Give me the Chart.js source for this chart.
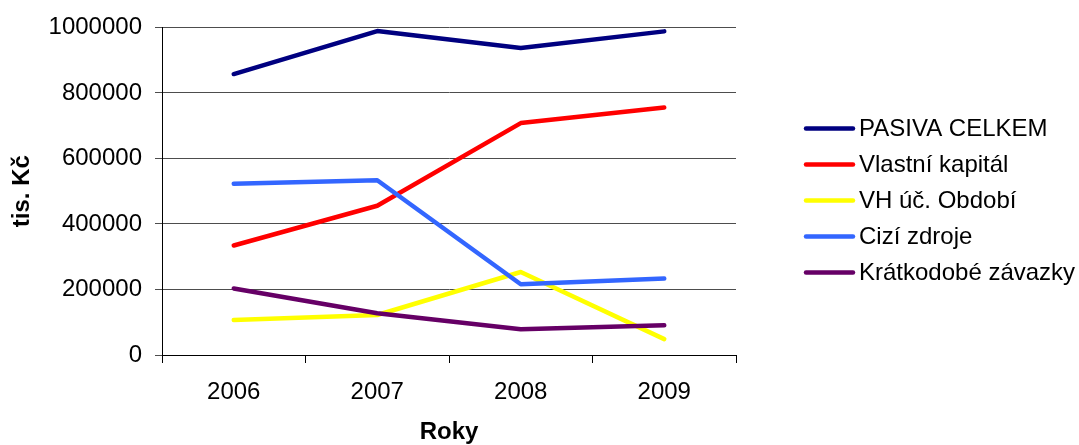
<!DOCTYPE html>
<html>
<head>
<meta charset="utf-8">
<script src="https://cdn.jsdelivr.net/npm/chart.js@4/dist/chart.umd.min.js"></script>
<style>
  html, body { margin: 0; padding: 0; background: #ffffff; }
  #wrap { width: 1079px; height: 445px; position: relative; }
</style>
</head>
<body>
<div id="wrap"><canvas id="c" width="1079" height="445"></canvas></div>
<script>
// Years on the x axis
const years = ['2006', '2007', '2008', '2009'];

// Balance sheet liabilities (tis. Kč)
const pasivaCelkem = [857600, 988800, 937300, 987900];
const vlastniKapital = [334200, 455500, 707900, 755500];
const vhObdobi = [107000, 122100, 253300, 48500];
const ciziZdroje = [523000, 533300, 216100, 233300];
const kratkodobeZavazky = [203000, 127300, 78800, 90900];

const seriesNames = ['PASIVA CELKEM', 'Vlastní kapitál', 'VH úč. Období', 'Cizí zdroje', 'Krátkodobé závazky'];
const seriesColors = ['#000080', '#FF0000', '#FFFF00', '#3366FF', '#660066'];
const seriesValues = [pasivaCelkem, vlastniKapital, vhObdobi, ciziZdroje, kratkodobeZavazky];

const FONT = "'Liberation Sans', Arial, sans-serif";

// Legend drawn to the right of the plot, with short line samples
const sideLegend = {
  id: 'sideLegend',
  afterDraw(chart) {
    const ctx = chart.ctx;
    ctx.save();
    ctx.font = '24px ' + FONT;
    ctx.textBaseline = 'middle';
    ctx.textAlign = 'left';
    chart.data.datasets.forEach((ds, i) => {
      const y = 128.5 + i * 36;
      ctx.strokeStyle = ds.borderColor;
      ctx.lineWidth = 4.5;
      ctx.lineCap = 'round';
      ctx.beginPath();
      ctx.moveTo(806, y);
      ctx.lineTo(853, y);
      ctx.stroke();
      ctx.fillStyle = '#000000';
      ctx.fillText(ds.label, 859, y + 1);
    });
    ctx.restore();
  }
};

new Chart(document.getElementById('c'), {
  type: 'line',
  data: {
    labels: years,
    datasets: seriesNames.map((name, i) => ({
      label: name,
      data: seriesValues[i],
      borderColor: seriesColors[i],
      backgroundColor: seriesColors[i],
      borderWidth: 4.5,
      borderCapStyle: 'round',
      borderJoinStyle: 'round',
      pointRadius: 0,
      tension: 0,
      order: seriesNames.length - i
    }))
  },
  options: {
    responsive: false,
    animation: false,
    devicePixelRatio: 1,
    layout: { padding: { left: 0, top: 25, right: 343, bottom: 0 } },
    plugins: {
      legend: { display: false },
      tooltip: { enabled: false }
    },
    scales: {
      x: {
        offset: true,
        grid: {
          offset: true,
          drawOnChartArea: false,
          drawTicks: true,
          tickLength: 8,
          color: '#000000'
        },
        border: { color: '#000000', width: 1 },
        ticks: {
          color: '#000000',
          font: { family: FONT, size: 24 },
          padding: 15,
          maxRotation: 0
        },
        title: {
          display: true,
          text: 'Roky',
          color: '#000000',
          font: { family: FONT, size: 24, weight: 'bold', lineHeight: 1 },
          padding: { top: 0, bottom: 1 }
        },
        afterFit(scale) { scale.height = 90; }
      },
      y: {
        min: 0,
        max: 1000000,
        grid: {
          color: '#4d4d4d',
          drawTicks: true,
          tickLength: 7
        },
        border: { color: '#000000', width: 1 },
        ticks: {
          stepSize: 200000,
          color: '#000000',
          font: { family: FONT, size: 24 },
          padding: 13,
          callback: v => String(v)
        },
        title: {
          display: true,
          text: 'tis. Kč',
          color: '#000000',
          font: { family: FONT, size: 24, weight: 'bold', lineHeight: 1 },
          padding: { top: 10, bottom: 0 }
        },
        afterFit(scale) { scale.width = 162; }
      }
    }
  },
  plugins: [sideLegend]
});
</script>
</body>
</html>
